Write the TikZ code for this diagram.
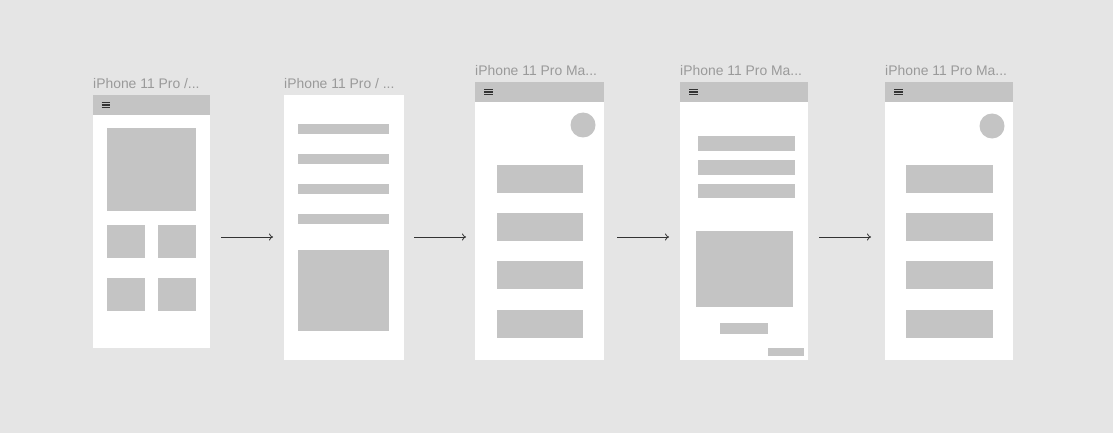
\documentclass[tikz,border=0pt]{standalone}
\usepackage{fontspec}
\setmainfont{Liberation Sans}
\usetikzlibrary{arrows.meta}
\definecolor{canvas}{HTML}{E5E5E5}
\definecolor{block}{HTML}{C4C4C4}
\definecolor{caption}{HTML}{9A9A9A}
\definecolor{ink}{HTML}{333333}
\tikzset{
  screen/.style={fill=white, draw=none, anchor=north west, inner sep=0pt, outer sep=0pt},
  header/.style={fill=block, draw=none, anchor=north west, inner sep=0pt, outer sep=0pt, minimum height=20},
  blockbox/.style={fill=block, draw=none, anchor=north west, inner sep=0pt, outer sep=0pt},
  dot/.style={circle, fill=block, draw=none, inner sep=0pt, minimum size=25},
  title/.style={anchor=base west, inner sep=0pt, text=caption, font=\fontsize{13.9}{16}\selectfont},
  burger/.style={ink, line width=1.15},
  flow/.style={ink, line width=0.8, -{To[length=4pt,width=7pt]}}
}
% draws the three-bar menu icon whose left end sits at the given point
\newcommand\menuicon[2]{%
  \draw[burger] (#1,#2-2.4) -- ++(8.5,0);
  \draw[burger] (#1,#2) -- ++(8.5,0);
  \draw[burger] (#1,#2+2.4) -- ++(8.5,0);}
\begin{document}
\begin{tikzpicture}[x=1pt,y=-1pt]
\fill[canvas] (0,0) rectangle (1113,433);
\useasboundingbox (0,0) rectangle (1113,433);

% ---- screen 1 ----
\node[title] (t1) at (93,89) {iPhone 11 Pro /...};
\node[screen, minimum width=117, minimum height=253] (s1) at (93,95) {};
\node[header, minimum width=117] (h1) at (93,95) {};
\menuicon{101.5}{105}
\node[blockbox, minimum width=89, minimum height=83] (s1a) at (107,128) {};
\node[blockbox, minimum width=38, minimum height=33] (s1b) at (107,225) {};
\node[blockbox, minimum width=38, minimum height=33] (s1c) at (158,225) {};
\node[blockbox, minimum width=38, minimum height=33] (s1d) at (107,278) {};
\node[blockbox, minimum width=38, minimum height=33] (s1e) at (158,278) {};

% ---- screen 2 ----
\node[title] (t2) at (284,89) {iPhone 11 Pro / ...};
\node[screen, minimum width=120, minimum height=265] (s2) at (284,95) {};
\node[blockbox, minimum width=91, minimum height=10] (s2a) at (298,124) {};
\node[blockbox, minimum width=91, minimum height=10] (s2b) at (298,154) {};
\node[blockbox, minimum width=91, minimum height=10] (s2c) at (298,184) {};
\node[blockbox, minimum width=91, minimum height=10] (s2d) at (298,214) {};
\node[blockbox, minimum width=91, minimum height=81] (s2e) at (298,250) {};

% ---- screen 3 ----
\node[title] (t3) at (475,76) {iPhone 11 Pro Ma...};
\node[screen, minimum width=129, minimum height=278] (s3) at (475,82) {};
\node[header, minimum width=129] (h3) at (475,82) {};
\menuicon{484}{92}
\node[dot] (s3o) at (583,125) {};
\node[blockbox, minimum width=86, minimum height=28] (s3a) at (497,165) {};
\node[blockbox, minimum width=86, minimum height=28] (s3b) at (497,213) {};
\node[blockbox, minimum width=86, minimum height=28] (s3c) at (497,261) {};
\node[blockbox, minimum width=86, minimum height=28] (s3d) at (497,310) {};

% ---- screen 4 ----
\node[title] (t4) at (680,76) {iPhone 11 Pro Ma...};
\node[screen, minimum width=128, minimum height=278] (s4) at (680,82) {};
\node[header, minimum width=128] (h4) at (680,82) {};
\menuicon{689}{92}
\node[blockbox, minimum width=97, minimum height=15] (s4a) at (698,136) {};
\node[blockbox, minimum width=97, minimum height=15] (s4b) at (698,160) {};
\node[blockbox, minimum width=97, minimum height=14] (s4c) at (698,184) {};
\node[blockbox, minimum width=97, minimum height=76] (s4d) at (696,231) {};
\node[blockbox, minimum width=48, minimum height=11] (s4e) at (720,323) {};
\node[blockbox, minimum width=36, minimum height=8] (s4f) at (768,348) {};

% ---- screen 5 ----
\node[title] (t5) at (885,76) {iPhone 11 Pro Ma...};
\node[screen, minimum width=128, minimum height=278] (s5) at (885,82) {};
\node[header, minimum width=128] (h5) at (885,82) {};
\menuicon{894}{92}
\node[dot] (s5o) at (992,126) {};
\node[blockbox, minimum width=87, minimum height=28] (s5a) at (906,165) {};
\node[blockbox, minimum width=87, minimum height=28] (s5b) at (906,213) {};
\node[blockbox, minimum width=87, minimum height=28] (s5c) at (906,261) {};
\node[blockbox, minimum width=87, minimum height=28] (s5d) at (906,310) {};

% ---- flow arrows between screens ----
\coordinate (a1s) at (221,237); \coordinate (a1e) at (273,237);
\coordinate (a2s) at (414,237); \coordinate (a2e) at (466,237);
\coordinate (a3s) at (617,237); \coordinate (a3e) at (669,237);
\coordinate (a4s) at (819,237); \coordinate (a4e) at (871,237);
\draw[flow] (a1s) -- (a1e);
\draw[flow] (a2s) -- (a2e);
\draw[flow] (a3s) -- (a3e);
\draw[flow] (a4s) -- (a4e);
\end{tikzpicture}
\end{document}
